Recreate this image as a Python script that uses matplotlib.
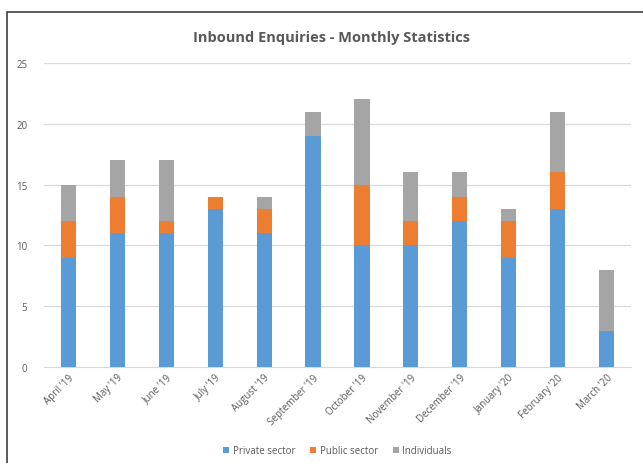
import matplotlib
matplotlib.use("Agg")
import matplotlib.pyplot as plt
from matplotlib.patches import Rectangle
import numpy as np

months = ["April '19", "May '19", "June '19", "July '19", "August '19", "September '19",
          "October '19", "November '19", "December '19", "January '20", "February '20", "March '20"]
private = [9, 11, 11, 13, 11, 19, 10, 10, 12, 9, 13, 3]
public = [3, 3, 1, 1, 2, 0, 5, 2, 2, 3, 3, 0]
individuals = [3, 3, 5, 0, 1, 2, 7, 4, 2, 1, 5, 5]

plt.rcParams['font.family'] = ['Open Sans', 'DejaVu Sans']

fig = plt.figure(figsize=(6.43, 4.64), dpi=100)
fig.patches.append(Rectangle((7/643, -0.01), 1.0, 1 - 13/464 + 0.01, transform=fig.transFigure,
                             fill=False, edgecolor='#404040', linewidth=1.2, zorder=0))
ax = fig.add_axes([44/643, 1 - 368/464, 587/643, 304/464])

x = np.arange(len(months))
w = 0.31
c_priv, c_pub, c_ind = '#5B9BD5', '#ED7D31', '#A5A5A5'
ax.bar(x, private, w, color=c_priv, label='Private sector', zorder=3)
b1 = np.array(private)
ax.bar(x, public, w, bottom=b1, color=c_pub, label='Public sector', zorder=3)
b2 = b1 + np.array(public)
ax.bar(x, individuals, w, bottom=b2, color=c_ind, label='Individuals', zorder=3)

ax.set_xlim(-0.5, len(months) - 0.5)
ax.set_ylim(0, 25)
ax.set_yticks([0, 5, 10, 15, 20, 25])
ax.yaxis.grid(True, color='#D9D9D9', linewidth=0.9, zorder=0)
for s in ['top', 'right', 'left']:
    ax.spines[s].set_visible(False)
ax.spines['bottom'].set_color('#D9D9D9')
ax.tick_params(axis='both', length=0, labelsize=7, labelcolor='#595959')
ax.tick_params(axis='y', pad=12)
ax.set_xticks(x)
ax.set_xticklabels(months, rotation=45, ha='right', rotation_mode='anchor')

fig.text(0.515, 1 - 38/464, 'Inbound Enquiries - Monthly Statistics', ha='center', va='center',
         fontsize=10.5, fontweight='bold', color='#595959')

leg = fig.legend(loc='center', bbox_to_anchor=(0.525, 1 - 452/464), ncol=3, frameon=False,
                 fontsize=7, handlelength=0.6, handleheight=0.6, handletextpad=0.4, columnspacing=1.5,
                 labelcolor='#595959')

fig.savefig('out.png', dpi=100)
